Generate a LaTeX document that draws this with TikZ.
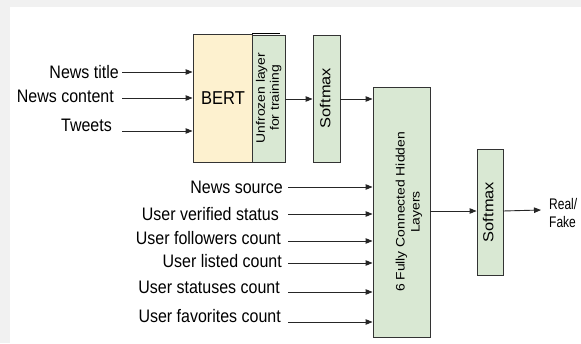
\documentclass[tikz,border=0pt]{standalone}
\usepackage{fontspec}
\setmainfont{Liberation Sans}
\usetikzlibrary{arrows.meta}
\definecolor{bgray}{HTML}{F1F1F1}
\definecolor{bertfill}{HTML}{FDF1CF}
\definecolor{greenfill}{HTML}{D9E8D3}
\definecolor{edge}{HTML}{333333}
\newcommand{\vstretch}[1]{\scalebox{1}[1.13]{#1}}
\newcommand{\lstretch}[1]{\scalebox{1.13}[1]{\begin{tabular}{@{}c@{}}#1\end{tabular}}}
\tikzset{
  x=1pt, y=-1pt,
  box/.style={draw=edge, line width=0.9pt, rectangle, inner sep=0pt},
  greenbox/.style={box, fill=greenfill},
  inlabel/.style={anchor=east, inner sep=0pt, font=\fontsize{16}{18}\selectfont},
  arr/.style={draw=black!85, line width=0.9pt, -{Triangle[length=7pt,width=5.5pt]}},
  rottext/.style={rotate=90, align=center, inner sep=0pt}
}
\begin{document}
\begin{tikzpicture}
\useasboundingbox (0,0) rectangle (581,343);
\fill[bgray] (0,0) rectangle (581,343);
\fill[white] (10,7) rectangle (581,343);

% boxes
\node[box, fill=bertfill, minimum width=59pt, minimum height=128pt] (bert) at (222.5,98) {};
\node[greenbox, minimum width=33pt, minimum height=127pt] (unfrozen) at (268.5,98.5) {};
\draw[draw=black, line width=1pt] (bert.north east) -- ++(28,0);
\node[greenbox, minimum width=27pt, minimum height=127pt] (soft1) at (326.5,98.5) {};
\node[greenbox, minimum width=57pt, minimum height=250pt] (fc) at (401.5,212) {};
\node[greenbox, minimum width=26pt, minimum height=126pt] (soft2) at (490,212) {};

% texts in boxes
\node[font=\fontsize{16.5}{20}\selectfont, inner sep=0pt] (berttext) at (223,98) {\vstretch{BERT}};
\node[rottext, font=\fontsize{12.3}{14}\selectfont] (unftext) at (269,98) {\lstretch{Unfrozen layer\\for training}};
\node[rottext, font=\fontsize{14.5}{17}\selectfont] (s1text) at (327,98) {\lstretch{Softmax}};
\node[rottext, font=\fontsize{12.3}{15}\selectfont] (fctext) at (409,212) {\lstretch{6 Fully Connected Hidden\\Layers}};
\node[rottext, font=\fontsize{14.5}{17}\selectfont] (s2text) at (490,212) {\lstretch{Softmax}};

% upper inputs
\node[inlabel] (ntitle) at (119,72) {\vstretch{News title}};
\node[inlabel] (ncontent) at (114,96) {\vstretch{News content}};
\node[inlabel] (tweets) at (112,125) {\vstretch{Tweets}};
\coordinate (a1) at (122,72);
\coordinate (a2) at (122,98);
\coordinate (a3) at (122,131);
\draw[arr] (a1) -- (a1 -| bert.west);
\draw[arr] (a2) -- (a2 -| bert.west);
\draw[arr] (a3) -- (a3 -| bert.west);

% lower inputs
\node[inlabel] (nsource) at (283,187) {\vstretch{News source}};
\node[inlabel] (uverified) at (279,214) {\vstretch{User verified status}};
\node[inlabel] (ufollow) at (281,238) {\vstretch{User followers count}};
\node[inlabel] (ulisted) at (282,261) {\vstretch{User listed count}};
\node[inlabel] (ustatus) at (280,287) {\vstretch{User statuses count}};
\node[inlabel] (ufav) at (281,316) {\vstretch{User favorites count}};
\coordinate (b1) at (288,187);
\coordinate (b2) at (288,214);
\coordinate (b3) at (288,241);
\coordinate (b4) at (288,263);
\coordinate (b5) at (288,292);
\coordinate (b6) at (288,322);
\foreach \c in {b1,b2,b3,b4,b5,b6}{
  \draw[arr] (\c) -- (\c -| fc.west);
}

% chain arrows
\coordinate (c1) at (285,99);
\draw[arr] (c1) -- (c1 -| soft1.west);
\coordinate (c2) at (340,99);
\draw[arr] (c2) -- (c2 -| fc.west);
\coordinate (c3) at (430,211);
\draw[arr] (c3) -- (c3 -| soft2.west);

% output
\node[anchor=west, inner sep=0pt, font=\fontsize{12}{14}\selectfont] (out) at (549,215) {\scalebox{1}[1.28]{\begin{tabular}{@{}l@{}}Real/\\Fake\end{tabular}}};
\coordinate (c4) at (503,211);
\coordinate (o4) at (541,210);
\draw[arr] (c4) -- (o4);
\end{tikzpicture}
\end{document}
